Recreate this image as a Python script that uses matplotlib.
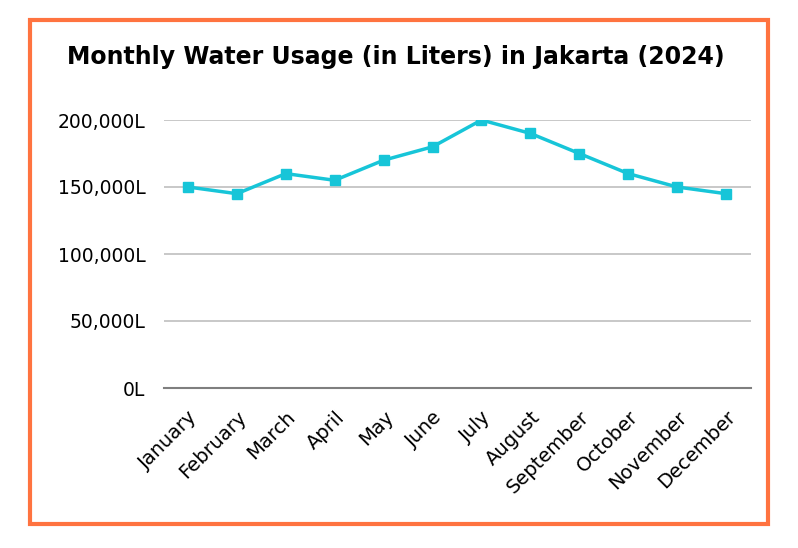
import matplotlib.pyplot as plt
from matplotlib.patches import Rectangle
from matplotlib.ticker import FuncFormatter

# === Veriler ===
months = ["January", "February", "March", "April", "May", "June",
          "July", "August", "September", "October", "November", "December"]
usage = [150000, 145000, 160000, 155000, 170000, 180000,
         200000, 190000, 175000, 160000, 150000, 145000]
y_ticks = [0, 50000, 100000, 150000, 200000]

plt.rcParams['font.family'] = ['DejaVu Sans']

fig = plt.figure(figsize=(7.98, 5.48), dpi=100)
ax = fig.add_axes([163.5 / 798, 160 / 548, 587 / 798, 268 / 548])

x = list(range(len(months)))
ax.plot(x, usage, color="#17C5D8", linewidth=2.5, marker="s", markersize=6.5, zorder=3)

ax.set_xlim(-0.5, len(months) - 0.5)
ax.set_ylim(0, 200000)
ax.set_yticks(y_ticks)
ax.yaxis.set_major_formatter(FuncFormatter(lambda v, p: f"{int(v):,}L"))
ax.set_xticks(x)
ax.set_xticklabels(months, rotation=45, ha="right", va="top", rotation_mode="anchor",
                   fontsize=14)

ax.grid(axis="y", color="#BFBFBF", linewidth=1.2, zorder=0)
for side in ["top", "right", "left"]:
    ax.spines[side].set_visible(False)
ax.spines["bottom"].set_color("#7F7F7F")
ax.spines["bottom"].set_linewidth(1.5)
ax.tick_params(axis="both", length=0, colors="#000000")
ax.tick_params(axis="y", pad=13, labelsize=13.5)
ax.tick_params(axis="x", pad=14)

fig.text(396 / 798, 1 - 57 / 548, "Monthly Water Usage (in Liters) in Jakarta (2024)",
         ha="center", va="center", fontsize=17, fontweight="bold")

# Turuncu çerçeve
fig.patches.append(Rectangle((29.5 / 798, 1 - 523.5 / 548), 738 / 798, 504 / 548,
                             transform=fig.transFigure, fill=False,
                             edgecolor="#FF7340", linewidth=3))

fig.savefig("out.png", dpi=100)
